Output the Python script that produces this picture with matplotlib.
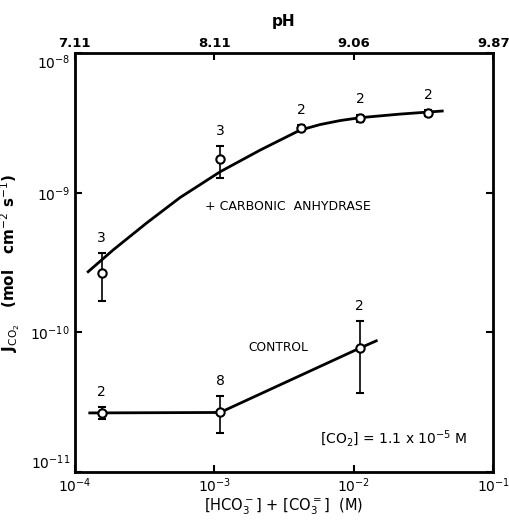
import numpy as np
import matplotlib.pyplot as plt

#=======================================================
# Data
#=======================================================

# + carbonic anhydrase
ca_x    = [1.56e-4, 1.1e-3, 4.2e-3, 1.11e-2, 3.42e-2]
ca_y    = [2.66e-10, 1.74e-9, 2.9e-9, 3.42e-9, 3.72e-9]
ca_lo   = [1.68e-10, 1.27e-9, 2.75e-9, 3.2e-9, 3.55e-9]
ca_hi   = [3.7e-10, 2.16e-9, 3.05e-9, 3.62e-9, 3.9e-9]
ca_n    = ['3', '3', '2', '2', '2']

# fitted curve drawn through the carbonic anhydrase points
ca_fit_x = [1.246e-4, 1.88e-4, 3.27e-4, 5.68e-4, 1.1e-3, 2.13e-3, 4.12e-3,
            5.74e-3, 7.99e-3, 1.11e-2, 2.15e-2, 4.31e-2]
ca_fit_y = [2.72e-10, 3.89e-10, 6.07e-10, 9.24e-10, 1.413e-9, 2.02e-9, 2.81e-9,
            3.08e-9, 3.29e-9, 3.45e-9, 3.66e-9, 3.85e-9]

# control
ct_x    = [1.56e-4, 1.1e-3, 1.1e-2]
ct_y    = [2.65e-11, 2.67e-11, 7.7e-11]
ct_lo   = [2.4e-11, 1.9e-11, 3.68e-11]
ct_hi   = [2.92e-11, 3.5e-11, 1.21e-10]
ct_n    = ['2', '8', '2']

ct_fit_x = [1.28e-4, 1.1e-3, 1.1e-2, 1.45e-2]
ct_fit_y = [2.65e-11, 2.67e-11, 7.7e-11, 8.7e-11]

# top axis (pH)
ph_pos    = [1e-4, 1e-3, 1e-2, 1e-1]
ph_labels = ['7.11', '8.11', '9.06', '9.87']

#=======================================================
# Plot
#=======================================================

fig = plt.figure(figsize=(5.09, 5.21), dpi=100)
ax = fig.add_axes([0.147, 0.094, 0.822, 0.804])

ax.set_xscale('log')
ax.set_yscale('log')
ax.set_xlim(1e-4, 1e-1)
ax.set_ylim(1e-11, 1e-8)

ax.plot(ca_fit_x, ca_fit_y, color='black', lw=2, solid_joinstyle='round')
ax.plot(ct_fit_x, ct_fit_y, color='black', lw=2)

for xs, ys, lo, hi, ns in [(ca_x, ca_y, ca_lo, ca_hi, ca_n),
                           (ct_x, ct_y, ct_lo, ct_hi, ct_n)]:
    ys = np.array(ys)
    yerr = [ys - np.array(lo), np.array(hi) - ys]
    ax.errorbar(xs, ys, yerr=yerr, fmt='o', color='black', mfc='white',
                mec='black', ms=6, mew=1.5, elinewidth=1.2, capsize=3,
                capthick=1.5, zorder=3)
    for x, h, n in zip(xs, hi, ns):
        ax.annotate(n, (x, h), xytext=(0, 6), textcoords='offset points',
                    ha='center', va='bottom', fontsize=10)

ax.text(0.311, 0.633, '+ CARBONIC  ANHYDRASE', transform=ax.transAxes,
        fontsize=9, va='center')
ax.text(0.415, 0.298, 'CONTROL', transform=ax.transAxes,
        fontsize=8.8, va='center')
ax.text(0.585, 0.08, r'$\left[\mathrm{CO_2}\right]$ = 1.1 x 10$^{-5}$ M',
        transform=ax.transAxes, fontsize=10, va='center')

ax.set_xlabel(r'$\left[\mathrm{HCO_3^-}\right]$ + $\left[\mathrm{CO_3^{=}}\right]$  (M)',
              fontsize=10.5, labelpad=1)
ax.set_ylabel(r'J$_{\mathrm{CO_2}}$   (mol   cm$^{-2}$ s$^{-1}$)', fontsize=11,
              fontweight='bold', labelpad=6)

ax.minorticks_off()
ax.set_xticks([1e-4, 1e-3, 1e-2, 1e-1])
ax.set_yticks([1e-11, 1e-10, 1e-9, 1e-8])
ax.tick_params(direction='in', length=5, width=1.5, labelsize=10, right=True)
for s in ax.spines.values():
    s.set_linewidth(2)

# keep corner labels apart, as in the original
ylabs = ax.get_yticklabels()
ylabs[0].set_va('bottom')
ylabs[-1].set_va('top')

top = ax.twiny()
top.set_xscale('log')
top.set_xlim(ax.get_xlim())
top.minorticks_off()
top.set_xticks(ph_pos)
top.set_xticklabels(ph_labels, fontweight='bold')
top.tick_params(direction='in', length=5, width=1.5, labelsize=9.5, pad=2)
top.set_xlabel('pH', fontsize=11, fontweight='bold', labelpad=8)

fig.savefig('out.png', dpi=100)
